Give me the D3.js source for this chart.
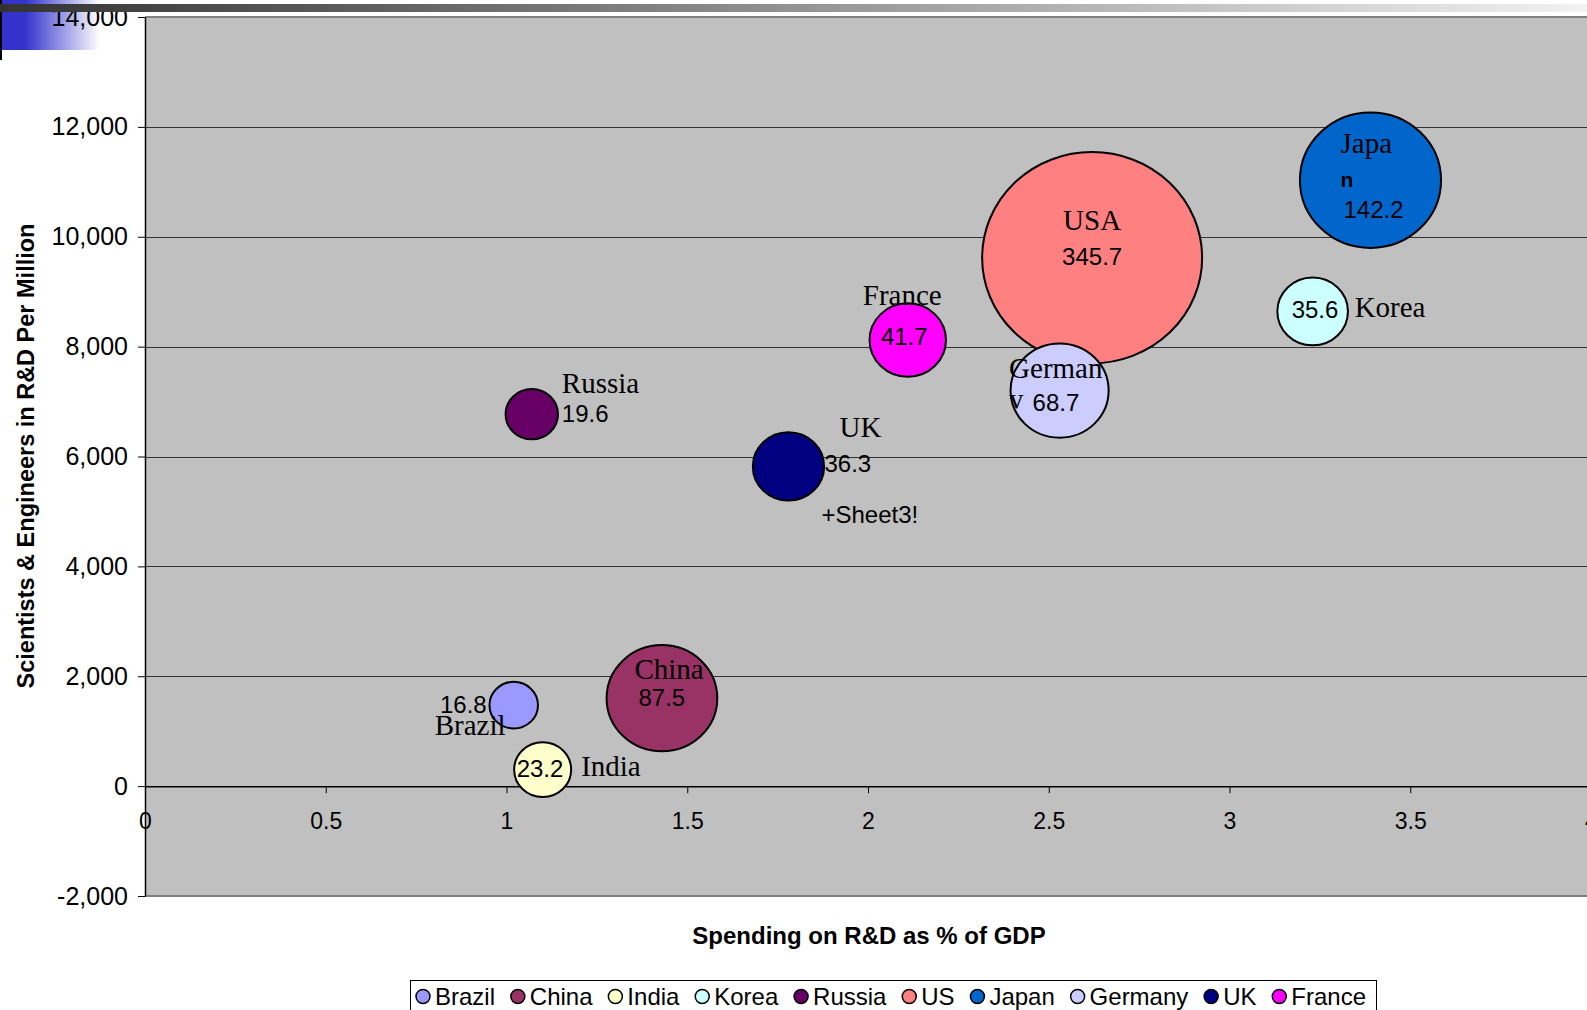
<!DOCTYPE html>
<html>
<head>
<meta charset="utf-8">
<script src="https://cdn.jsdelivr.net/npm/d3@7"></script>
<style>
body { margin: 0; background: #fff; overflow: hidden; }
svg { display: block; }
text { font-family: Arial, "Liberation Sans", sans-serif; fill: #000; }
.nm { font-family: "Times New Roman", "Liberation Serif", serif; font-size: 29px; }
.val { font-size: 24px; }
</style>
</head>
<body>
<svg id="chart" width="1587" height="1010"></svg>
<script>
// values
var countries  = ["Brazil", "China", "India", "Korea", "Russia", "US", "Japan", "Germany", "UK", "France"];
var spending   = [1.02, 1.43, 1.10, 3.23, 1.07, 2.62, 3.39, 2.53, 1.78, 2.11];
var scientists = [1474, 1600, 300, 8640, 6770, 9620, 11030, 7200, 5820, 8120];
var bubbleSize = [16.8, 87.5, 23.2, 35.6, 19.6, 345.7, 142.2, 68.7, 36.3, 41.7];
var nameLines  = [["Brazil"], ["China"], ["India"], ["Korea"], ["Russia"], ["USA"], ["Japa", "n"], ["German", "y"], ["UK"], ["France"]];
var colors     = ["#9999ff", "#993366", "#ffffcc", "#ccffff", "#660066", "#ff8080", "#0066cc", "#ccccff", "#000080", "#ff00ff"];
var yTicks = [-2000, 0, 2000, 4000, 6000, 8000, 10000, 12000, 14000];
var xTicks = [0, 0.5, 1, 1.5, 2, 2.5, 3, 3.5, 4];
var strayLabel = "+Sheet3!";

// where each data label sits relative to its bubble
var labelPos = [
  {name: [-79, 30, "start"], value: [-27, 8, "end"]},
  {name: [-27.5, -19, "start"], value: [-23.5, 8, "start"]},
  {name: [38.5, 6.5, "start"], value: [-26, 7, "start"]},
  {name: [42, 5.5, "start"], value: [-21, 7, "start"]},
  {name: [30, -21.5, "start"], value: [30, 8, "start"]},
  {name: [0, -28, "middle"], value: [0, 7.5, "middle"]},
  {name: [-30, -27, "start"], name2: [-30, 7], value: [-27, 38, "start"]},
  {name: [-50.5, -13, "start"], name2: [-50.5, 18], value: [-27, 20, "start"]},
  {name: [51, -29, "start"], value: [36, 6, "start"], extra: [33, 56.5]},
  {name: [-5.5, -35.5, "middle"], value: [-3.5, 5, "middle"]}
];

var svg = d3.select("#chart");
var plotLeft = 145, plotTop = 17, plotBottom = 896;

var x = d3.scaleLinear().domain([0, 4]).range([plotLeft, plotLeft + 4 * 361.5]);
var y = d3.scaleLinear().domain([-2000, 14000]).range([plotBottom, plotTop]);
var r = d3.scaleSqrt().domain([0, 345.7]).range([0, 110]);
var squash = 0.96;

var defs = svg.append("defs");
var g1 = defs.append("linearGradient").attr("id", "topbar");
g1.append("stop").attr("offset", "0%").attr("stop-color", "#333");
g1.append("stop").attr("offset", "100%").attr("stop-color", "#f2f2f2");
var g2 = defs.append("linearGradient").attr("id", "bluebox");
g2.append("stop").attr("offset", "25%").attr("stop-color", "#3333cc");
g2.append("stop").attr("offset", "100%").attr("stop-color", "#fff");

// slide decoration behind the chart
svg.append("rect").attr("x", 0).attr("y", 0).attr("width", 100).attr("height", 50).attr("fill", "url(#bluebox)");
svg.append("line").attr("x1", 1).attr("x2", 1).attr("y1", 0).attr("y2", 60).attr("stroke", "#000").attr("stroke-width", 2);

// plot area
svg.append("rect").attr("x", plotLeft).attr("y", plotTop)
  .attr("width", x(4) - plotLeft + 5).attr("height", plotBottom - plotTop)
  .attr("fill", "#c0c0c0");

svg.append("g").selectAll("line")
  .data(yTicks.filter(d => d > -2000 && d < 14000 && d !== 0))
  .enter().append("line")
  .attr("x1", plotLeft).attr("x2", x(4) + 5)
  .attr("y1", d => Math.round(y(d)) + 0.5).attr("y2", d => Math.round(y(d)) + 0.5)
  .attr("stroke", "#333").attr("stroke-width", 1);

svg.append("line").attr("x1", plotLeft).attr("x2", x(4) + 5)
  .attr("y1", plotTop).attr("y2", plotTop).attr("stroke", "#808080").attr("stroke-width", 2);
svg.append("line").attr("x1", plotLeft).attr("x2", x(4) + 5)
  .attr("y1", plotBottom).attr("y2", plotBottom).attr("stroke", "#808080").attr("stroke-width", 2);

// axes
var fmt = d => d3.format(",")(d).replace("\u2212", "-");
var yAxis = svg.append("g").attr("transform", "translate(" + plotLeft + ",0)")
  .call(d3.axisLeft(y).tickValues(yTicks).tickFormat(fmt).tickSizeInner(7).tickSizeOuter(0).tickPadding(10));
yAxis.select(".domain").attr("stroke", "#000").attr("stroke-width", 1.5);
yAxis.selectAll("text").attr("font-size", 25).attr("font-family", "Arial, 'Liberation Sans', sans-serif");

var xAxis = svg.append("g").attr("transform", "translate(0," + y(0) + ")")
  .call(d3.axisBottom(x).tickValues(xTicks).tickFormat(d => String(d)).tickSizeInner(7).tickSizeOuter(0).tickPadding(20));
xAxis.select(".domain").attr("stroke", "#000").attr("stroke-width", 1.5);
xAxis.selectAll("text").attr("font-size", 23).attr("font-family", "Arial, 'Liberation Sans', sans-serif");

svg.append("text").attr("x", 869).attr("y", 944).attr("text-anchor", "middle")
  .attr("font-size", 24).attr("font-weight", "bold").text("Spending on R&D as % of GDP");
svg.append("text").attr("transform", "translate(34,456) rotate(-90)").attr("text-anchor", "middle")
  .attr("font-size", 23.5).attr("font-weight", "bold").text("Scientists & Engineers in R&D Per Million");

// bubbles
var pts = countries.map((c, i) => ({
  name: c, cx: x(spending[i]), cy: y(scientists[i]), rx: r(bubbleSize[i]),
  size: bubbleSize[i], color: colors[i], lines: nameLines[i], pos: labelPos[i]
}));

svg.append("g").selectAll("ellipse").data(pts).enter().append("ellipse")
  .attr("cx", d => d.cx).attr("cy", d => d.cy)
  .attr("rx", d => d.rx).attr("ry", d => d.rx * squash)
  .attr("fill", d => d.color).attr("stroke", "#000").attr("stroke-width", 2);

// data labels
var lab = svg.append("g");
pts.forEach(function (d, i) {
  var p = d.pos;
  lab.append("text").attr("class", "nm")
    .attr("x", d.cx + p.name[0]).attr("y", d.cy + p.name[1])
    .attr("text-anchor", p.name[2]).text(d.lines[0]);
  if (d.lines.length > 1) {
    var t2 = lab.append("text").attr("x", d.cx + p.name2[0]).attr("y", d.cy + p.name2[1]).text(d.lines[1]);
    if (d.name === "Japan") {
      t2.attr("font-size", 21).attr("font-weight", "bold");
    } else {
      defs.append("clipPath").attr("id", "clip" + i).append("rect")
        .attr("x", d.cx + p.name2[0] - 5).attr("y", d.cy + p.name2[1] - 25)
        .attr("width", 30).attr("height", 25);
      t2.attr("class", "nm").attr("clip-path", "url(#clip" + i + ")");
    }
  }
  lab.append("text").attr("class", "val")
    .attr("x", d.cx + p.value[0]).attr("y", d.cy + p.value[1])
    .attr("text-anchor", p.value[2]).text(d.size);
  if (p.extra) {
    lab.append("text").attr("class", "val")
      .attr("x", d.cx + p.extra[0]).attr("y", d.cy + p.extra[1]).text(strayLabel);
  }
});

// legend
var legend = svg.append("g");
legend.append("rect").attr("x", 410.5).attr("y", 980.5).attr("width", 966).attr("height", 45)
  .attr("fill", "#fff").attr("stroke", "#000").attr("stroke-width", 1);
var items = legend.selectAll("g.item").data(pts).enter().append("g").attr("class", "item");
items.append("circle").attr("r", 7).attr("cy", 996.5)
  .attr("fill", d => d.color).attr("stroke", "#000").attr("stroke-width", 1.5);
items.append("text").attr("y", 1004.5).attr("font-size", 24).text(d => d.name);
var widths = [];
items.select("text").each(function () { widths.push(this.getComputedTextLength()); });
var startX = 423, endX = 1366, pad = 12;
var gap = (endX - startX - d3.sum(widths) - pad * widths.length) / (widths.length - 1);
var cursor = startX;
items.each(function (d, i) {
  var it = d3.select(this);
  it.select("circle").attr("cx", cursor);
  it.select("text").attr("x", cursor + pad);
  cursor += pad + widths[i] + gap;
});

// dark bar across the top, drawn over everything
svg.append("rect").attr("x", 0).attr("y", 4).attr("width", 1587).attr("height", 8).attr("fill", "url(#topbar)");
</script>
</body>
</html>
